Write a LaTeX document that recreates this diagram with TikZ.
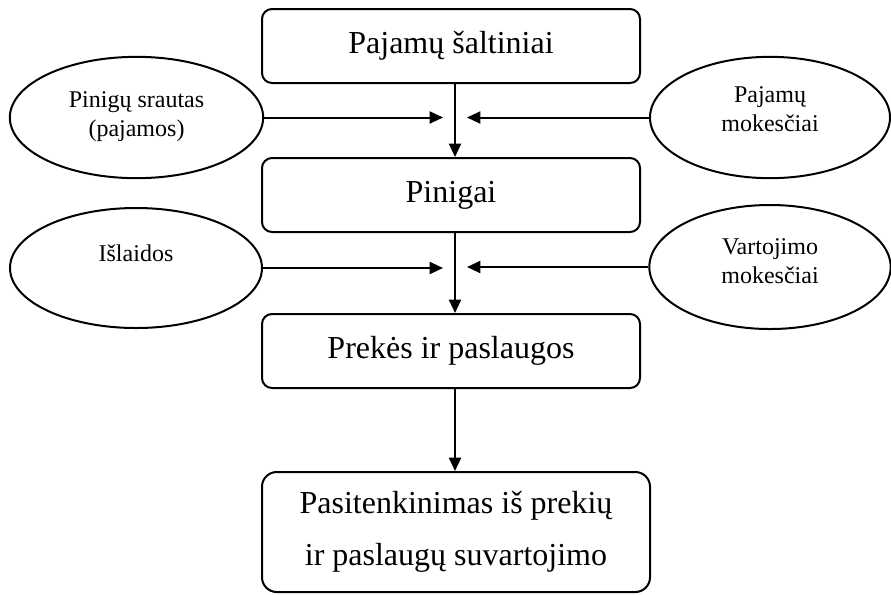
\documentclass[tikz,border=0pt]{standalone}
\usepackage{fontspec}
\setmainfont{Liberation Serif}
\usetikzlibrary{shapes.geometric,arrows.meta}

\tikzset{every picture/.style={line width=1.5pt}}
\tikzset{
  blokas/.style={draw,rounded corners=7.5pt,minimum width=283.5pt,minimum height=55.5pt,inner sep=0pt,font=\fontsize{24}{29}\selectfont},
  elipse/.style={draw,ellipse,inner sep=0pt},
  eltekstas/.style={align=center,inner sep=0.75pt,font=\fontsize{18}{22}\selectfont},
  rodykle/.style={-{Triangle[length=10pt,width=9pt]}}
}

\begin{document}
\begin{tikzpicture}[x=0.75pt,y=0.75pt,yscale=-1,xscale=1]
\useasboundingbox (0,0) rectangle (891,594);

%Rounded Rect [id:saltiniai]
\node [blokas] (saltiniai) at (451,46) {Pajamų šaltiniai};
%Rounded Rect [id:pinigai]
\node [blokas] (pinigai) at (451,195) {Pinigai};
%Rounded Rect [id:prekes]
\node [blokas] (prekes) at (451,351) {Prekės ir paslaugos};
%Rounded Rect [id:pasitenkinimas]
\node [blokas,rounded corners=11pt,minimum width=291pt,minimum height=90pt,align=center,font=\fontsize{24}{39}\selectfont] (pasitenkinimas) at (456,532) {Pasitenkinimas iš prekių\\ir paslaugų suvartojimo};

%Shape: Ellipse [id:srautas]
\node [elipse,minimum width=190pt,minimum height=91pt] (srautas) at (136.5,117.5) {};
%Shape: Ellipse [id:mokesciai]
\node [elipse,minimum width=180pt,minimum height=91pt] (mokesciai) at (770,117.5) {};
%Shape: Ellipse [id:islaidos]
\node [elipse,minimum width=189pt,minimum height=90pt] (islaidos) at (136,268) {};
%Shape: Ellipse [id:vartojimo]
\node [elipse,minimum width=181pt,minimum height=93pt] (vartojimo) at (770,267) {};

% Text Node
\node [eltekstas] at ([yshift=-0.5pt]srautas.center) {Pinigų srautas\\(pajamos)};
% Text Node
\node [eltekstas] at ([yshift=-6.5pt]mokesciai.center) {Pajamų\\mokesčiai};
% Text Node
\node [eltekstas] at ([yshift=-11pt]islaidos.center) {Išlaidos};
% Text Node
\node [eltekstas] at ([yshift=-4.5pt]vartojimo.center) {Vartojimo\\mokesčiai};

%Straight Lines [id:vertikalios]
\draw [rodykle] ([xshift=3pt]saltiniai.south) coordinate (v1) -- (v1 |- pinigai.north);
\draw [rodykle] ([xshift=3pt]pinigai.south) coordinate (v2) -- (v2 |- prekes.north);
\draw [rodykle] ([xshift=3pt]prekes.south) coordinate (v3) -- (v3 |- pasitenkinimas.north);

%Straight Lines [id:horizontalios]
\draw [rodykle] (srautas.east) -- ([xshift=-9pt]v1 |- srautas.east);
\draw [rodykle] (mokesciai.west) -- ([xshift=9pt]v1 |- mokesciai.west);
\draw [rodykle] (islaidos.east) -- ([xshift=-9pt]v2 |- islaidos.east);
\draw [rodykle] (vartojimo.west) -- ([xshift=9pt]v2 |- vartojimo.west);

\end{tikzpicture}
\end{document}
